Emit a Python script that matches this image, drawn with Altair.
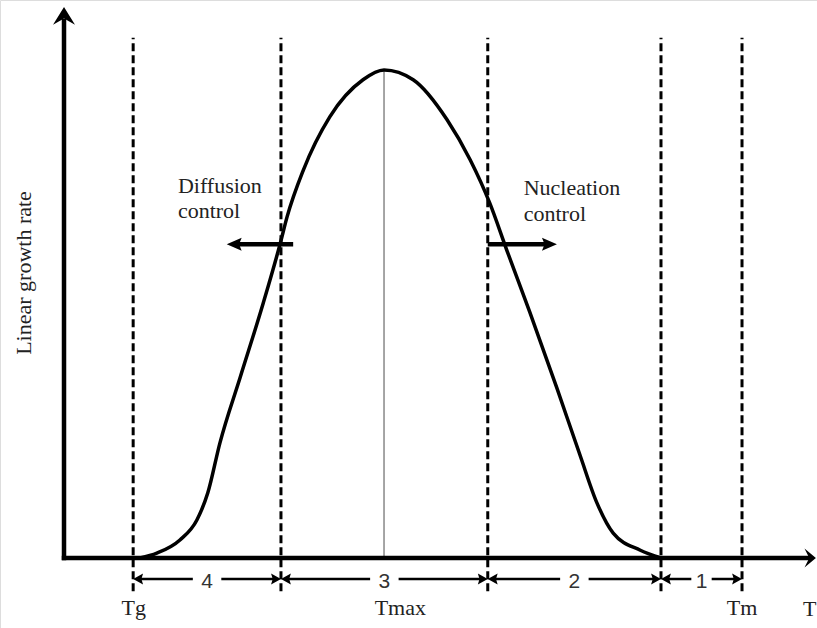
import altair as alt
import pandas as pd

# Temperature in relative units (0 at the origin, Tm = 100);
# growth rate normalised so that the maximum at Tmax equals 1.
curve_T = [11.2, 13.7, 17.1, 19.6, 21.2, 23.0, 26.0, 29.4, 31.9, 32.9, 35.3,
           39.2, 44.1, 47.2, 51.5, 56.5, 59.9, 62.8, 65.3, 68.7, 72.7, 76.1,
           78.6, 81.0, 85.0, 88.05]
curve_rate = [0.0, 0.010, 0.037, 0.078, 0.133, 0.236, 0.371, 0.523, 0.645,
              0.699, 0.795, 0.904, 0.980, 1.0, 0.980, 0.898, 0.816, 0.727,
              0.631, 0.504, 0.348, 0.211, 0.113, 0.051, 0.016, 0.0]

# Region boundaries: Tg, diffusion limit, nucleation limit, end of growth, Tm
boundaries = [10.2, 32.0, 62.5, 88.05, 100.0]
region_names = ["4", "3", "2", "1"]
T_max = 47.2

point_labels = ["Tg", "Tmax", "Tm"]
point_label_T = [10.3, 49.6, 100.0]

X_DOMAIN = [-9.44, 111.06]
Y_DOMAIN = [-0.1434, 1.1434]

x_scale = alt.Scale(domain=X_DOMAIN, nice=False, zero=False)
y_scale = alt.Scale(domain=Y_DOMAIN, nice=False, zero=False)

def X(field="T"):
    return alt.X(f"{field}:Q", scale=x_scale, axis=None)

def Y(field="rate"):
    return alt.Y(f"{field}:Q", scale=y_scale, axis=None)

# Arrow head shapes (tip sits on the anchor point)
HEAD_UP = "M0,0 L1,1.6 L0,1.05 L-1,1.6 Z"
HEAD_RIGHT_AXIS = "M0,0 L-1.2,-1 L-0.7,0 L-1.2,1 Z"
HEAD_LEFT_BIG = "M0,0 L2.3,-1 L1.9,0 L2.3,1 Z"
HEAD_RIGHT_BIG = "M0,0 L-2.3,-1 L-1.9,0 L-2.3,1 Z"
HEAD_LEFT_SMALL = "M0,0 L1.8,-1 L1.5,0 L1.8,1 Z"
HEAD_RIGHT_SMALL = "M0,0 L-1.8,-1 L-1.5,0 L-1.8,1 Z"

TEXT_COLOR = "#222222"
SERIF = "Liberation Serif"

# --- axes -------------------------------------------------------------
axes_df = pd.DataFrame({
    "T": [0.0, 0.0], "rate": [0.0, 0.0],
    "T2": [109.8, 0.0], "rate2": [0.0, 1.10],
})
axes = alt.Chart(axes_df).mark_rule(color="black", strokeWidth=4.5, strokeCap="square").encode(
    x=X(), y=Y(), x2="T2:Q", y2="rate2:Q"
)

# --- dashed boundaries --------------------------------------------------
dash_df = pd.DataFrame({"T": boundaries, "lo": -0.068, "hi": 1.066})
dashes = alt.Chart(dash_df).mark_rule(color="black", strokeWidth=3, strokeDash=[8, 4]).encode(
    x=X(), y=Y("lo"), y2="hi:Q"
)

# --- vertical line at Tmax ----------------------------------------------
tmax_df = pd.DataFrame({"T": [T_max], "lo": [0.0], "hi": [1.0]})
tmax_line = alt.Chart(tmax_df).mark_rule(color="#888888", strokeWidth=1.5).encode(
    x=X(), y=Y("lo"), y2="hi:Q"
)

# --- growth rate curve --------------------------------------------------
curve_df = pd.DataFrame({"T": curve_T, "rate": curve_rate})
curve = alt.Chart(curve_df).mark_line(color="black", strokeWidth=3.5, interpolate="monotone").encode(
    x=X(), y=Y(), order="T:Q"
)

# --- regime arrows (diffusion / nucleation control) ---------------------
ARROW_RATE = 0.643
regime_df = pd.DataFrame({
    "T": [33.8, 62.5], "T2": [25.5, 71.4], "rate": [ARROW_RATE, ARROW_RATE],
})
regime_shafts = alt.Chart(regime_df).mark_rule(color="black", strokeWidth=4.5).encode(
    x=X(), x2="T2:Q", y=Y()
)

# --- region dimension arrows --------------------------------------------
DIM_RATE = -0.043
GAP = [2.1, 2.1, 2.1, 1.5]
seg_rows, head_rows, num_rows = [], [], []
for i, name in enumerate(region_names):
    a, b = boundaries[i], boundaries[i + 1]
    mid = (a + b) / 2
    g = GAP[i]
    seg_rows.append({"T": a + 0.8, "T2": mid - g, "rate": DIM_RATE})
    seg_rows.append({"T": mid + g, "T2": b - 0.8, "rate": DIM_RATE})
    head_rows.append({"T": a, "rate": DIM_RATE, "shape": HEAD_LEFT_SMALL, "size": 121})
    head_rows.append({"T": b, "rate": DIM_RATE, "shape": HEAD_RIGHT_SMALL, "size": 121})
    num_rows.append({"T": mid, "rate": -0.0615, "label": name})

dim_segments = alt.Chart(pd.DataFrame(seg_rows)).mark_rule(color="black", strokeWidth=2.5).encode(
    x=X(), x2="T2:Q", y=Y()
)

# All arrow heads in one layer
head_rows += [
    {"T": 0.0, "rate": 1.129, "shape": HEAD_UP, "size": 484},
    {"T": 110.9, "rate": 0.0, "shape": HEAD_RIGHT_AXIS, "size": 361},
    {"T": 24.0, "rate": ARROW_RATE, "shape": HEAD_LEFT_BIG, "size": 169},
    {"T": 72.7, "rate": ARROW_RATE, "shape": HEAD_RIGHT_BIG, "size": 169},
]
heads = alt.Chart(pd.DataFrame(head_rows)).mark_point(
    filled=True, color="black", opacity=1, strokeWidth=0
).encode(
    x=X(), y=Y(),
    shape=alt.Shape("shape:N", scale=None),
    size=alt.Size("size:Q", scale=None),
)

numbers = alt.Chart(pd.DataFrame(num_rows)).mark_text(
    font="Liberation Sans", fontSize=21, color="#333333", baseline="alphabetic", align="center"
).encode(x=X(), y=Y(), text="label:N")

# --- text labels --------------------------------------------------------
temp_df = pd.DataFrame({"T": point_label_T, "rate": -0.117, "label": point_labels})
temp_labels = alt.Chart(temp_df).mark_text(
    font=SERIF, fontSize=22, color=TEXT_COLOR, baseline="alphabetic", align="center"
).encode(x=X(), y=Y(), text="label:N")

t_axis_df = pd.DataFrame({"T": [109.0], "rate": [-0.119], "label": ["T"]})
t_axis_label = alt.Chart(t_axis_df).mark_text(
    font=SERIF, fontSize=22, color=TEXT_COLOR, baseline="alphabetic", align="left"
).encode(x=X(), y=Y(), text="label:N")

regime_text_df = pd.DataFrame({
    "T": [16.8, 16.8, 67.8, 67.8],
    "rate": [0.748, 0.697, 0.744, 0.691],
    "label": ["Diffusion", "control", "Nucleation", "control"],
})
regime_text = alt.Chart(regime_text_df).mark_text(
    font=SERIF, fontSize=22, color=TEXT_COLOR, baseline="alphabetic", align="left"
).encode(x=X(), y=Y(), text="label:N")

ylab_df = pd.DataFrame({"T": [-4.87], "rate": [0.584], "label": ["Linear growth rate"]})
y_label = alt.Chart(ylab_df).mark_text(
    font=SERIF, fontSize=22, color=TEXT_COLOR, baseline="alphabetic", align="center", angle=270
).encode(x=X(), y=Y(), text="label:N")

chart = alt.layer(
    tmax_line, dashes, curve, axes, regime_shafts, dim_segments, heads,
    numbers, temp_labels, t_axis_label, regime_text, y_label,
).properties(
    width=817, height=628,
    autosize=alt.AutoSizeParams(type="none"),
    padding=0,
).configure_view(stroke=None).configure(background="white")

chart.save("out.html", embed_options={"renderer": "svg", "actions": False})
